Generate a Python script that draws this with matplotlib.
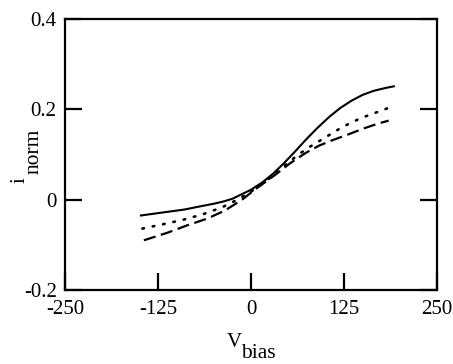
import matplotlib
matplotlib.use("Agg")
import matplotlib.pyplot as plt

# Solid curve
solid_x = [-148, -117, -90, -72, -50, -37, -25, -15, 0, 15, 30, 45, 60, 75, 90, 105, 120, 135, 150, 165, 180, 192]
solid_y = [-0.035, -0.028, -0.022, -0.016, -0.009, -0.004, 0.002, 0.010, 0.022, 0.038, 0.058, 0.082,
           0.108, 0.135, 0.160, 0.183, 0.203, 0.219, 0.232, 0.241, 0.247, 0.251]

# Dotted curve
dot_x = [-146, -117, -90, -64, -39, -17, 0, 15, 30, 45, 60, 75, 90, 105, 120, 135, 150, 165, 183]
dot_y = [-0.064, -0.054, -0.044, -0.032, -0.017, 0.001, 0.018, 0.035, 0.054, 0.075, 0.095, 0.113,
         0.128, 0.143, 0.158, 0.171, 0.182, 0.191, 0.202]

# Dashed curve
dash_x = [-144, -112, -86, -59, -35, -12, 5, 20, 35, 52, 74, 92, 110, 130, 152, 170, 185]
dash_y = [-0.090, -0.073, -0.057, -0.042, -0.024, 0.000, 0.022, 0.040, 0.058, 0.080, 0.104, 0.120,
          0.132, 0.144, 0.158, 0.168, 0.175]

xticks = [-250, -125, 0, 125, 250]
xticklabels = ["-250", "-125", "0", "125", "250"]
yticks = [-0.2, 0, 0.2, 0.4]
yticklabels = ["-0.2", "0", "0.2", "0.4"]

plt.rcParams['font.family'] = ['Liberation Serif', 'DejaVu Serif']

W, H = 453, 364
fig = plt.figure(figsize=(W / 100, H / 100), dpi=100)
ax = fig.add_axes([65 / W, 1 - 290 / H, 372 / W, 271 / H])

ax.plot(solid_x, solid_y, color='black', lw=1.5, ls='-', solid_joinstyle='round')
ax.plot(dot_x, dot_y, color='black', lw=1.9, ls=(0, (0.6, 3.4)), dash_capstyle='round')
ax.plot(dash_x, dash_y, color='black', lw=1.6, ls=(0, (5.5, 2.5)))

ax.set_xlim(-250, 250)
ax.set_ylim(-0.2, 0.4)
ax.set_xticks(xticks)
ax.set_xticklabels(xticklabels)
ax.set_yticks(yticks)
ax.set_yticklabels(yticklabels)

ax.tick_params(axis='both', direction='in', length=12.5, width=1.6, labelsize=15)
ax.tick_params(axis='x', pad=7, top=False)
ax.tick_params(axis='y', pad=6, right=True, left=True)

for s in ax.spines.values():
    s.set_linewidth(1.6)

# axis labels with large subscripts, as in the reference
fig.text(227 / W, 1 - 347 / H, "V", fontsize=15, ha='left', va='baseline')
fig.text(241 / W, 1 - 358 / H, "bias", fontsize=15.5, ha='left', va='baseline')
fig.text(25 / W, 1 - 183 / H, "i", fontsize=15, rotation=90, rotation_mode='anchor',
         ha='left', va='baseline')
fig.text(39 / W, 1 - 174 / H, "norm", fontsize=15.5, rotation=90, rotation_mode='anchor',
         ha='left', va='baseline')

fig.savefig("out.png", dpi=100)
